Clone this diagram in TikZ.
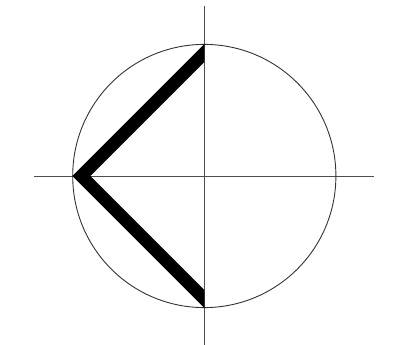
\documentclass[tikz,border=0pt]{standalone}
\begin{document}
\begin{tikzpicture}[x=1pt,y=1pt,
  axis/.style={draw=black!70,line width=0.9pt},
  ring/.style={draw=black!80,line width=0.9pt},
  thick/.style={draw=black,line width=12.7pt,line join=miter}]
\useasboundingbox (-204.3,-169) rectangle (197.7,176);
\coordinate (O) at (0,0);
\draw[axis] (-170,0) -- (170,0);
\draw[axis] (0,-170) -- (0,170);
\draw[ring] (O) circle (131.6);
\begin{scope}
\clip (-200,-160) rectangle (0,160);
\draw[thick] (10,133) -- (-123,0) -- (10,-133);
\end{scope}
\end{tikzpicture}
\end{document}
